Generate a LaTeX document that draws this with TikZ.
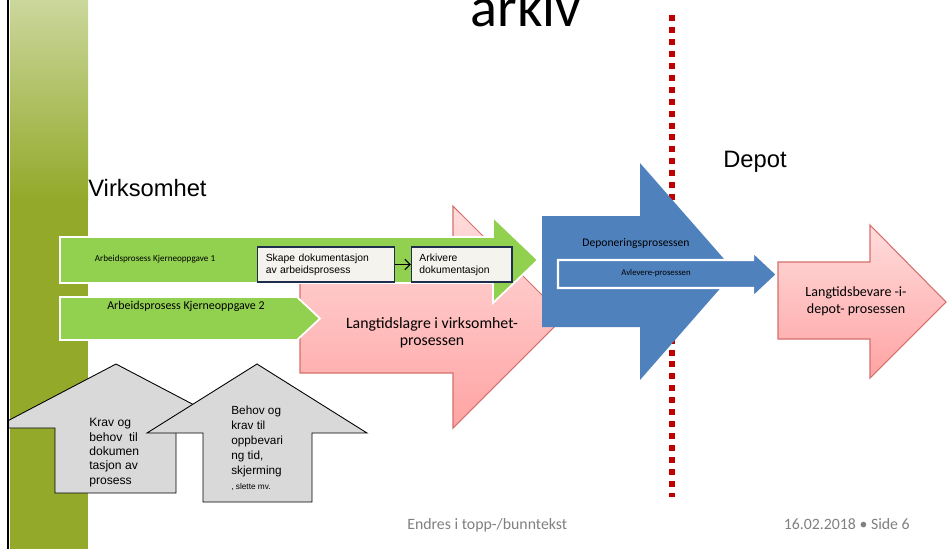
\documentclass[tikz,border=0pt]{standalone}
\usepackage{fontspec}
\setmainfont{Liberation Sans}
\newfontfamily\calibri{Carlito}
\usetikzlibrary{arrows.meta,positioning}
\definecolor{arrowgreen}{HTML}{92D050}
\definecolor{barlight}{HTML}{CBD79C}
\definecolor{barolive}{HTML}{92A92A}
\definecolor{pinktop}{HTML}{FFDCDC}
\definecolor{pinkbot}{HTML}{FFA3A3}
\definecolor{pinkline}{HTML}{D46F6B}
\definecolor{depotblue}{HTML}{4F81BD}
\definecolor{grayfill}{HTML}{D9D9D9}
\definecolor{boxfill}{HTML}{F4F3EE}
\definecolor{boxline}{HTML}{1F2E4E}
\definecolor{dotred}{HTML}{C00000}
\definecolor{footgray}{HTML}{808080}
\newcommand*{\fs}[2]{\fontsize{#1}{#2}\selectfont}

\begin{document}
\begin{tikzpicture}[x=0.02cm, y=-0.02cm,
    green_arrow/.style ={fill=arrowgreen, draw=white, line width=1pt},
    pink_arrow/.style ={top color=pinktop, bottom color=pinkbot, draw=pinkline, line width=0.6pt},
    blue_arrow/.style ={fill=depotblue, draw=none},
    inner_arrow/.style ={fill=depotblue, draw=white, line width=1.2pt},
    gray_arrow/.style ={fill=grayfill, draw=black, line width=0.5pt},
    red_dots/.style ={draw=dotred, line width=3.4pt, dash pattern=on 3.4pt off 3.4pt},
    doc_box/.style ={rectangle, draw=boxline, fill=boxfill, line width=0.6pt, font=\fs{5.9}{7},
      minimum height=0.7cm, align=left, inner xsep=4.6pt, inner ysep=2pt},
    arrow_text/.style ={inner sep=0pt, align=center},
    gray_text/.style ={inner sep=0pt, align=left, anchor=north west},
    heading/.style ={inner sep=0pt, font=\fs{13.5}{16}},
    footer/.style ={inner sep=0pt, font=\calibri\fs{9}{11}, text=footgray},
    connector/.style ={draw, line width=0.6pt, -{Straight Barb[length=3pt,width=6pt]}}]
    \useasboundingbox (0,0) rectangle (947,549);
    % side bar
    \shade[top color=barlight, bottom color=barolive] (10,0) rectangle (88,200);
    \fill[barolive] (10,200) rectangle (88,549);
    % border between virksomhet and depot
    \draw[red_dots] (672,15) -- (672,497);
    % arrows in virksomhet
    \path[pink_arrow] (300,261) -- (453,261) -- (453,206) -- (564,317) -- (453,428) -- (453,373) -- (300,373) -- cycle;
    \path[green_arrow] (60,237) -- (493,237) -- (493,217) -- (538,260) -- (493,303) -- (493,283) -- (60,283) -- cycle;
    \path[green_arrow] (60,297) -- (297,297) -- (320,318.5) -- (297,340) -- (60,340) -- cycle;
    \node [doc_box, text width=2.41cm] (skape) at (326,264.5) {Skape dokumentasjon\\av arbeidsprosess};
    \node [doc_box, text width=1.69cm] (arkivere) [right=0.32cm of skape] {Arkivere\\dokumentasjon};
    \path[connector] (skape) -- (arkivere);
    % arrows in depot
    \path[blue_arrow] (542,216) -- (640,216) -- (640,163) -- (735,271.5) -- (640,380) -- (640,327) -- (542,327) -- cycle;
    \path[inner_arrow] (558,260) -- (753,260) -- (753,252) -- (777,274.5) -- (753,297) -- (753,288) -- (558,288) -- cycle;
    \path[pink_arrow] (778,262) -- (870,262) -- (870,225) -- (946,302) -- (870,378) -- (870,339) -- (778,339) -- cycle;
    % requirements
    \path[gray_arrow] (116,364) -- (238,428) -- (176,428) -- (176,493) -- (55,493) -- (55,428) -- (8,428) -- (8,420.7) -- cycle;
    \path[gray_arrow] (257,364) -- (367,433) -- (312,433) -- (312,502) -- (203,502) -- (203,433) -- (147,433) -- cycle;
    \draw[line width=1.2pt] (8,0) -- (8,549);
    % texts
    \node [heading, anchor=base, font=\calibri\fs{32}{38}] (arkiv) at (526,26) {arkiv};
    \node [heading, anchor=base west] (depot) at (723,167) {Depot};
    \node [heading, anchor=base west] (virksomhet) at (88,196) {Virksomhet};
    \node [arrow_text, font=\calibri\fs{5.2}{6}] (kjerne1) at (155,259) {Arbeidsprosess Kjerneoppgave 1};
    \node [arrow_text, font=\calibri\fs{6.8}{8}] (kjerne2) at (186,306) {Arbeidsprosess Kjerneoppgave 2};
    \node [arrow_text, font=\calibri\fs{9}{9.6}] (langtid) at (432,333) {Langtidslagre i virksomhet-\\prosessen};
    \node [arrow_text, font=\calibri\fs{6.6}{8}] (deponering) at (636,243) {Deponeringsprosessen};
    \node [arrow_text, font=\calibri\fs{5}{6}] (avlevere) at (656,273) {Avlevere-prosessen};
    \node [arrow_text, font=\calibri\fs{8}{9.6}] (bevare) at (856,301.5) {Langtidsbevare -i-\\depot- prosessen};
    \node [gray_text, font=\fs{6.9}{8.2}] (krav) at (89,418) {Krav og\\behov\ \ til\\dokumen\\tasjon av\\prosess};
    \node [gray_text, font=\fs{6.7}{8.5}] (behov) at (231,406) {Behov og\\krav til\\oppbevari\\ng tid,\\skjerming\\{\fs{4.7}{8}, slette mv.}};
    \node [footer, anchor=base west] (bunntekst) at (407,529) {Endres i topp-/bunntekst};
    \node [footer, anchor=base east] (side) at (910,529) {16.02.2018 • Side 6};
\end{tikzpicture}
\end{document}
